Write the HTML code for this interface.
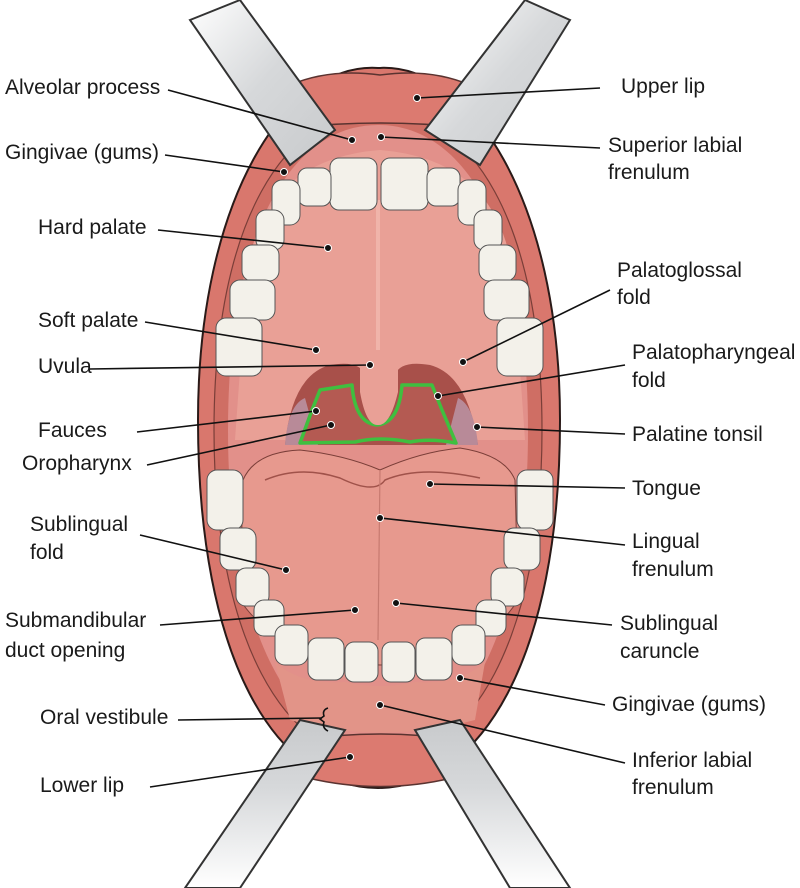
<!DOCTYPE html>
<html><head><meta charset="utf-8"><style>
html,body{margin:0;padding:0;background:#fff;}
svg{display:block;}
text{font-family:"Liberation Sans",sans-serif;font-size:21px;fill:#1a1a1a;}
</style></head><body>
<svg width="800" height="888" viewBox="0 0 800 888" xmlns="http://www.w3.org/2000/svg">
<defs>
<linearGradient id="rtl" x1="0" y1="0" x2="1" y2="1"><stop offset="0" stop-color="#fff"/><stop offset="0.5" stop-color="#d6d8da"/><stop offset="1" stop-color="#c8cacc"/></linearGradient>
<linearGradient id="rbl" x1="0" y1="1" x2="0" y2="0"><stop offset="0" stop-color="#fff"/><stop offset="0.6" stop-color="#d6d8da"/><stop offset="1" stop-color="#c8cacc"/></linearGradient>
</defs>
<!-- outer mouth -->
<path d="M378 68 C470 62 560 200 560 420 C560 660 480 788 378 788 C276 788 198 660 198 420 C198 200 286 62 378 68 Z" fill="#d9776d" stroke="#2a1a18" stroke-width="2"/>
<path d="M378 110 C470 110 542 220 542 430 C542 640 470 760 378 760 C286 760 214 640 214 430 C214 220 286 110 378 110 Z" fill="#cf6e64" stroke="#7a3e38" stroke-width="1.2"/>
<path d="M378 125 C465 125 528 230 528 430 C528 630 465 745 378 745 C291 745 228 630 228 430 C228 230 291 125 378 125 Z" fill="#e2908a"/>
<!-- upper lip -->
<path d="M290 85 Q330 68 380 75 Q430 68 470 85 L470 128 Q380 118 290 128 Z" fill="#dc7a70" stroke="#5a3330" stroke-width="1.5"/>
<!-- palate -->
<path d="M245 300 Q250 160 380 150 Q510 160 515 300 L525 440 L235 440 Z" fill="#e9a096"/>
<path d="M378 200 L378 350" stroke="#f0b4aa" stroke-width="4"/>
<!-- throat -->
<path d="M285 445 Q292 375 330 365 Q360 360 365 375 L395 375 Q400 360 430 365 Q468 375 478 445 Z" fill="#a8504a"/>
<path d="M285 445 Q288 405 305 398 L318 445Z M478 445 Q474 405 458 398 L446 445Z" fill="#b88a98"/>
<path d="M312 410 L320 390 L352 385 Q355 423 377 425 Q399 423 402 385 L432 385 L442 410 L456 443 Q430 438 410 442 Q380 436 355 442 L300 443 Z" fill="#b45a52" stroke="#3fbf3f" stroke-width="3.5" stroke-linejoin="round"/>
<path d="M360 360 Q378 352 398 360 L398 392 Q390 426 378 425 Q366 426 360 392 Z" fill="#e9a096"/>
<!-- tongue -->
<path d="M243 480 Q255 452 300 450 Q345 455 380 470 Q420 452 460 448 Q505 455 515 480 L518 600 Q480 660 380 665 Q280 660 240 600 Z" fill="#e7998e" stroke="#7a3e38" stroke-width="1"/>
<path d="M265 480 Q300 465 340 478 Q375 495 385 480 Q420 465 480 478" fill="none" stroke="#a0524a" stroke-width="1.5"/>
<path d="M380 470 L378 640" stroke="#c77a70" stroke-width="1.2"/>
<!-- upper teeth -->
<g fill="#f3f1ea" stroke="#555" stroke-width="1">
<rect x="330" y="158" width="47" height="52" rx="9"/><rect x="381" y="158" width="47" height="52" rx="9"/>
<rect x="298" y="168" width="33" height="38" rx="9"/><rect x="427" y="168" width="33" height="38" rx="9"/>
<rect x="272" y="180" width="28" height="45" rx="10"/><rect x="458" y="180" width="28" height="45" rx="10"/>
<rect x="256" y="210" width="28" height="40" rx="10"/><rect x="474" y="210" width="28" height="40" rx="10"/>
<rect x="242" y="245" width="37" height="36" rx="10"/><rect x="479" y="245" width="37" height="36" rx="10"/>
<rect x="230" y="280" width="45" height="40" rx="10"/><rect x="484" y="280" width="45" height="40" rx="10"/>
<rect x="216" y="318" width="46" height="58" rx="10"/><rect x="497" y="318" width="46" height="58" rx="10"/>
</g>
<!-- lower teeth -->
<g fill="#f3f1ea" stroke="#555" stroke-width="1">
<rect x="207" y="470" width="36" height="60" rx="10"/><rect x="517" y="470" width="36" height="60" rx="10"/>
<rect x="220" y="528" width="36" height="42" rx="10"/><rect x="504" y="528" width="36" height="42" rx="10"/>
<rect x="236" y="568" width="33" height="38" rx="10"/><rect x="491" y="568" width="33" height="38" rx="10"/>
<rect x="254" y="600" width="30" height="36" rx="10"/><rect x="476" y="600" width="30" height="36" rx="10"/>
<rect x="275" y="625" width="33" height="40" rx="10"/><rect x="452" y="625" width="33" height="40" rx="10"/>
<rect x="308" y="638" width="36" height="42" rx="9"/><rect x="416" y="638" width="36" height="42" rx="9"/>
<rect x="345" y="642" width="33" height="40" rx="9"/><rect x="382" y="642" width="33" height="40" rx="9"/>
</g>
<!-- lower gum -->
<path d="M275 662 Q300 685 345 682 Q380 690 415 682 Q460 685 485 662 L475 720 Q380 745 290 720 Z" fill="#e29488"/>
<!-- lower lip -->
<path d="M300 740 Q380 728 460 740 Q470 760 452 778 Q380 795 308 778 Q290 760 300 740 Z" fill="#dc7a70" stroke="#5a3330" stroke-width="1.5"/>
<!-- retractors -->
<g stroke="#333" stroke-width="2">
<polygon points="190,20 240,0 335,130 290,165" fill="url(#rtl)"/>
<polygon points="570,20 525,0 425,130 480,165" fill="url(#rtl)"/>
<polygon points="300,720 345,730 240,888 185,888" fill="url(#rbl)"/>
<polygon points="460,720 415,730 510,888 570,888" fill="url(#rbl)"/>
</g>
<!-- leader lines -->
<g stroke="#111" stroke-width="1.6" fill="none">
<line x1="168" y1="90" x2="352" y2="140"/>
<line x1="165" y1="155" x2="284" y2="172"/>
<line x1="158" y1="230" x2="328" y2="248"/>
<line x1="145" y1="322" x2="316" y2="350"/>
<line x1="90" y1="369" x2="370" y2="365"/>
<line x1="137" y1="432" x2="316" y2="411"/>
<line x1="147" y1="465" x2="331" y2="425"/>
<line x1="140" y1="535" x2="286" y2="570"/>
<line x1="160" y1="625" x2="355" y2="610"/>
<line x1="178" y1="720" x2="322" y2="718"/>
<path d="M328 708 Q322 710 324 716 L320 719 L324 722 Q322 728 328 731"/>
<line x1="150" y1="787" x2="350" y2="757"/>
<line x1="600" y1="88" x2="417" y2="98"/>
<line x1="600" y1="148" x2="381" y2="137"/>
<line x1="610" y1="290" x2="463" y2="362"/>
<line x1="625" y1="365" x2="438" y2="396"/>
<line x1="625" y1="434" x2="477" y2="427"/>
<line x1="625" y1="488" x2="430" y2="484"/>
<line x1="625" y1="545" x2="380" y2="518"/>
<line x1="612" y1="625" x2="396" y2="603"/>
<line x1="605" y1="705" x2="460" y2="678"/>
<line x1="625" y1="763" x2="380" y2="705"/>
</g>
<g fill="#111" stroke="#fff" stroke-width="1">
<circle cx="352" cy="140" r="3.5"/><circle cx="284" cy="172" r="3.5"/><circle cx="328" cy="248" r="3.5"/>
<circle cx="316" cy="350" r="3.5"/><circle cx="370" cy="365" r="3.5"/><circle cx="316" cy="411" r="3.5"/>
<circle cx="331" cy="425" r="3.5"/><circle cx="286" cy="570" r="3.5"/><circle cx="355" cy="610" r="3.5"/>
<circle cx="350" cy="757" r="3.5"/><circle cx="417" cy="98" r="3.5"/><circle cx="381" cy="137" r="3.5"/>
<circle cx="463" cy="362" r="3.5"/><circle cx="438" cy="396" r="3.5"/><circle cx="477" cy="427" r="3.5"/>
<circle cx="430" cy="484" r="3.5"/><circle cx="380" cy="518" r="3.5"/><circle cx="396" cy="603" r="3.5"/>
<circle cx="460" cy="678" r="3.5"/><circle cx="380" cy="705" r="3.5"/>
</g>
<!-- labels -->
<text x="5" y="94">Alveolar process</text>
<text x="5" y="159">Gingivae (gums)</text>
<text x="38" y="234">Hard palate</text>
<text x="38" y="327">Soft palate</text>
<text x="38" y="373">Uvula</text>
<text x="38" y="437">Fauces</text>
<text x="22" y="470">Oropharynx</text>
<text x="30" y="531">Sublingual</text>
<text x="30" y="559">fold</text>
<text x="5" y="627">Submandibular</text>
<text x="5" y="657">duct opening</text>
<text x="40" y="724">Oral vestibule</text>
<text x="40" y="792">Lower lip</text>
<text x="621" y="93">Upper lip</text>
<text x="608" y="152">Superior labial</text>
<text x="608" y="179">frenulum</text>
<text x="617" y="277">Palatoglossal</text>
<text x="617" y="304">fold</text>
<text x="632" y="359">Palatopharyngeal</text>
<text x="632" y="387">fold</text>
<text x="632" y="441">Palatine tonsil</text>
<text x="632" y="495">Tongue</text>
<text x="632" y="548">Lingual</text>
<text x="632" y="576">frenulum</text>
<text x="620" y="630">Sublingual</text>
<text x="620" y="658">caruncle</text>
<text x="612" y="711">Gingivae (gums)</text>
<text x="632" y="767">Inferior labial</text>
<text x="632" y="794">frenulum</text>
</svg>
</body></html>
